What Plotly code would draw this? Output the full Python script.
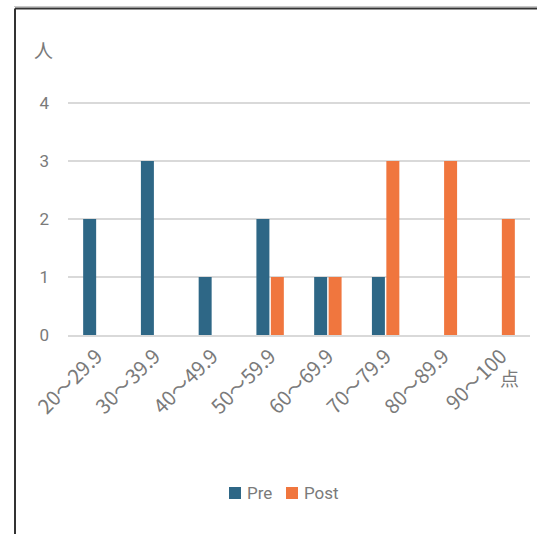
import plotly.graph_objects as go

# Score bands and head counts before / after
categories = ["20～29.9", "30～39.9", "40～49.9", "50～59.9",
              "60～69.9", "70～79.9", "80～89.9", "90～100"]
pre_counts = [2, 3, 1, 2, 1, 1, 0, 0]
post_counts = [0, 0, 0, 1, 1, 3, 3, 2]
y_ticks = [0, 1, 2, 3, 4]
series_names = ["Pre", "Post"]

PRE_COLOR = "#2E6786"
POST_COLOR = "#F0763E"
TEXT_COLOR = "#7A7A7A"
FONT = "Roboto, Noto Sans CJK JP, sans-serif"
TICK_FONT = "Noto Sans CJK JP, Roboto, sans-serif"

W, H = 537, 534
L, R, T, B = 68, 7, 100, 199
PW, PH = W - L - R, H - T - B
Y_MAX = 4.05


def px_x(px):
    return (px - L) / PW


def px_y(py):
    return (H - B - py) / PH


fig = go.Figure()
fig.add_trace(go.Bar(name=series_names[0], x=categories, y=pre_counts,
                     marker=dict(color=PRE_COLOR, line=dict(width=0))))
fig.add_trace(go.Bar(name=series_names[1], x=categories, y=post_counts,
                     marker=dict(color=POST_COLOR, line=dict(width=0))))

# compact legend: small swatch followed closely by its label
legend_shapes, legend_notes = [], []
for name, color, x0, tx in [(series_names[0], PRE_COLOR, 229, 245),
                            (series_names[1], POST_COLOR, 286, 302)]:
    legend_shapes.append(dict(type="rect", xref="paper", yref="paper",
                              x0=px_x(x0), x1=px_x(x0 + 12),
                              y0=px_y(487), y1=px_y(499),
                              fillcolor=color, line=dict(width=0)))
    legend_notes.append(dict(text=name, xref="paper", yref="paper",
                             x=px_x(tx), y=px_y(493), showarrow=False,
                             xanchor="left", yanchor="middle",
                             font=dict(family=FONT, size=17, color=TEXT_COLOR)))

fig.update_layout(
    width=W, height=H,
    margin=dict(l=L, r=R, t=T, b=B, pad=0),
    paper_bgcolor="white", plot_bgcolor="white",
    barmode="group", bargap=0.5, bargroupgap=0.1,
    font=dict(family=FONT, size=17, color=TEXT_COLOR),
    showlegend=False,
    xaxis=dict(showgrid=False, showline=True, linecolor="#D9D9D9", linewidth=1.5,
               tickangle=-45, ticks="",
               tickfont=dict(family=TICK_FONT, size=20, color=TEXT_COLOR),
               zeroline=False),
    yaxis=dict(range=[0, Y_MAX], tickvals=y_ticks, showgrid=True, gridcolor="#D9D9D9",
               gridwidth=1.5, zeroline=False, showline=False, ticks="",
               ticklabelstandoff=18, tickfont=dict(size=17, color=TEXT_COLOR)),
    shapes=[
        # frame around the chart
        dict(type="line", xref="paper", yref="paper",
             x0=px_x(14), x1=px_x(560), y0=px_y(6.5), y1=px_y(6.5),
             line=dict(color="#C8C8C8", width=1)),
        dict(type="line", xref="paper", yref="paper",
             x0=px_x(15), x1=px_x(560), y0=px_y(8.5), y1=px_y(8.5),
             line=dict(color="#333333", width=2)),
        dict(type="line", xref="paper", yref="paper",
             x0=px_x(15), x1=px_x(15), y0=px_y(8.5), y1=px_y(560),
             line=dict(color="#333333", width=2)),
    ] + legend_shapes,
    annotations=[
        dict(text="人", xref="paper", yref="paper", x=px_x(43), y=px_y(50),
             showarrow=False, xanchor="center", yanchor="middle",
             font=dict(family=TICK_FONT, size=19, color=TEXT_COLOR)),
        dict(text="点", xref="paper", yref="paper", x=px_x(509), y=px_y(377),
             showarrow=False, xanchor="center", yanchor="middle",
             font=dict(family=TICK_FONT, size=19, color=TEXT_COLOR)),
    ] + legend_notes,
)

fig.write_html("out.html")
